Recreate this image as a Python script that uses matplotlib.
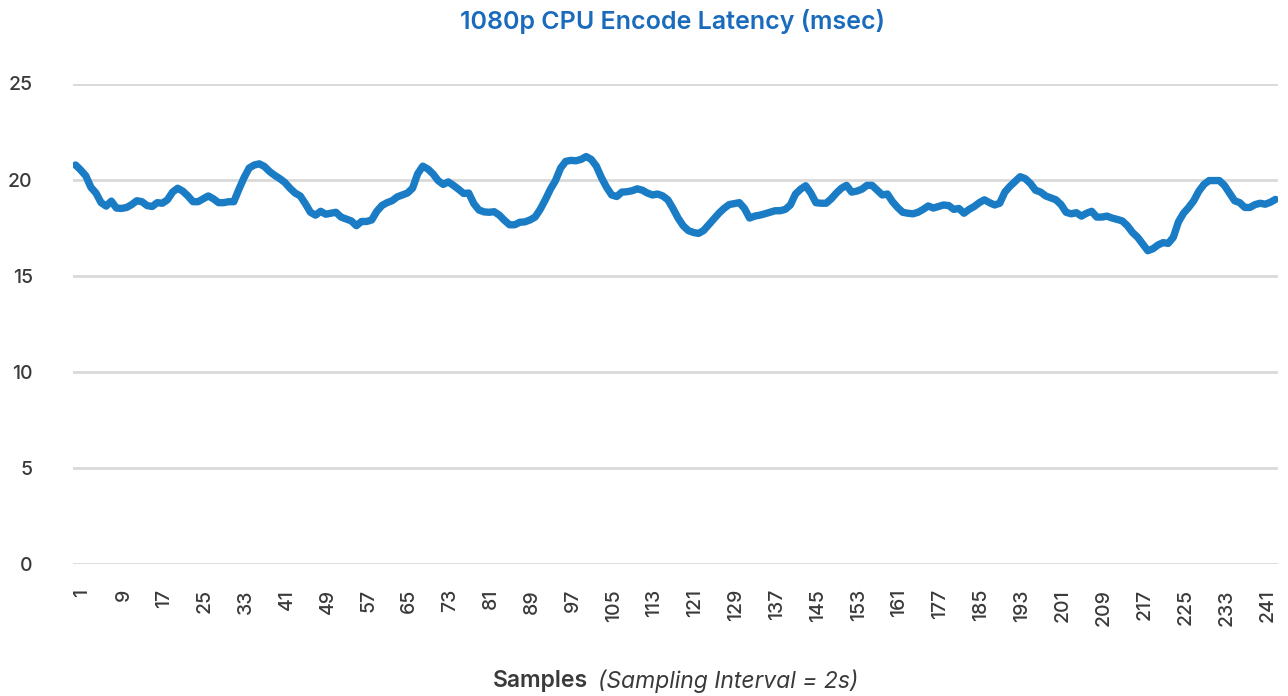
import matplotlib
matplotlib.use("Agg")
import matplotlib.pyplot as plt
import matplotlib.transforms as mtransforms
import numpy as np

# encode latency per sample (msec)
latency = [
    20.76, 20.5, 20.2, 19.6, 19.3, 18.8, 18.62, 18.88, 18.52, 18.5,
    18.55, 18.7, 18.9, 18.85, 18.65, 18.6, 18.8, 18.77, 18.95, 19.35,
    19.55, 19.4, 19.15, 18.85, 18.85, 19.0, 19.15, 19.0, 18.8, 18.8,
    18.85, 18.85, 19.5, 20.1, 20.6, 20.76, 20.82, 20.68, 20.42, 20.22,
    20.05, 19.85, 19.55, 19.3, 19.15, 18.75, 18.3, 18.15, 18.35, 18.2,
    18.25, 18.3, 18.05, 17.95, 17.85, 17.6, 17.82, 17.82, 17.9, 18.35,
    18.65, 18.8, 18.9, 19.1, 19.2, 19.3, 19.55, 20.3, 20.7, 20.55,
    20.3, 19.95, 19.75, 19.88, 19.7, 19.5, 19.28, 19.3, 18.75, 18.42,
    18.32, 18.3, 18.33, 18.15, 17.88, 17.65, 17.65, 17.78, 17.8, 17.9,
    18.05, 18.45, 18.95, 19.5, 19.95, 20.6, 20.95, 21.0, 20.98, 21.05,
    21.2, 21.05, 20.7, 20.1, 19.6, 19.2, 19.12, 19.35, 19.37, 19.42,
    19.52, 19.45, 19.3, 19.2, 19.25, 19.15, 18.95, 18.5, 18.0, 17.6,
    17.35, 17.25, 17.2, 17.35, 17.65, 17.95, 18.25, 18.5, 18.7, 18.75,
    18.8, 18.5, 18.0, 18.1, 18.15, 18.22, 18.3, 18.38, 18.38, 18.45,
    18.68, 19.25, 19.5, 19.68, 19.3, 18.8, 18.77, 18.77, 19.0, 19.3,
    19.55, 19.7, 19.35, 19.4, 19.5, 19.7, 19.7, 19.45, 19.2, 19.25,
    18.85, 18.55, 18.3, 18.25, 18.22, 18.3, 18.45, 18.63, 18.52, 18.6,
    18.68, 18.65, 18.45, 18.5, 18.25, 18.45, 18.6, 18.8, 18.95, 18.8,
    18.68, 18.77, 19.35, 19.65, 19.9, 20.15, 20.05, 19.8, 19.45, 19.35,
    19.15, 19.05, 18.95, 18.7, 18.3, 18.22, 18.28, 18.1, 18.25, 18.35,
    18.05, 18.05, 18.1, 18.0, 17.93, 17.85, 17.6, 17.25, 17.0, 16.65,
    16.3, 16.4, 16.6, 16.72, 16.68, 17.0, 17.8, 18.25, 18.55, 18.9,
    19.4, 19.75, 19.95, 19.95, 19.95, 19.7, 19.3, 18.9, 18.8, 18.55,
    18.55, 18.7, 18.77, 18.72, 18.82, 18.97,
]

# category labels shown every 8th sample (169 never appears on the axis)
tick_labels = ["1", "9", "17", "25", "33", "41", "49", "57", "65", "73",
               "81", "89", "97", "105", "113", "121", "129", "137", "145", "153",
               "161", "177", "185", "193", "201", "209", "217", "225", "233", "241"]
y_ticks = [0, 5, 10, 15, 20, 25]

plt.rcParams['font.family'] = ['Inter', 'DejaVu Sans']

fig = plt.figure(figsize=(12.88, 6.96), dpi=100)
ax = fig.add_axes([73/1288, 1 - 564/696, 1205/1288, (564 - 83.5)/696])

x = np.arange(len(latency))
ax.plot(x, latency, color='#1a7cc4', linewidth=5.3, solid_capstyle='round',
        solid_joinstyle='round', zorder=3)

ax.set_xlim(-0.5, len(latency) - 0.5)
ax.set_ylim(0, 25)
ax.set_yticks(y_ticks)
ax.yaxis.grid(True, color='#d9d9d9', linewidth=2)
ax.set_axisbelow(True)
for s in ax.spines.values():
    s.set_visible(False)

ax.set_xticks(np.arange(0, 8 * len(tick_labels), 8))
ax.set_xticklabels(tick_labels, rotation=90, va='top', ha='center', fontweight='medium')
ax.set_yticklabels([str(v) for v in y_ticks], fontweight='medium')
ax.tick_params(axis='x', length=0, pad=18, labelsize=14, labelcolor='#3a3a3a')
ax.tick_params(axis='y', length=0, pad=29, labelsize=14, labelcolor='#3a3a3a')
offset = mtransforms.ScaledTranslation(7/100, 0, fig.dpi_scale_trans)
for lab in ax.get_xticklabels():
    lab.set_transform(lab.get_transform() + offset)

fig.text(672/1288, 1 - 22/696, "1080p CPU Encode Latency (msec)", ha='center', va='center',
         fontsize=18, fontweight='semibold', color='#1a6bbb')
fig.text(588/1288, 1 - 681/696, "Samples", ha='right', va='center',
         fontsize=16.5, fontweight='semibold', color='#3a3a3a')
fig.text(598/1288, 1 - 681/696, "(Sampling Interval = 2s)", ha='left', va='center',
         fontsize=16.5, fontstyle='italic', color='#3a3a3a')

fig.savefig("out.png", dpi=100)
